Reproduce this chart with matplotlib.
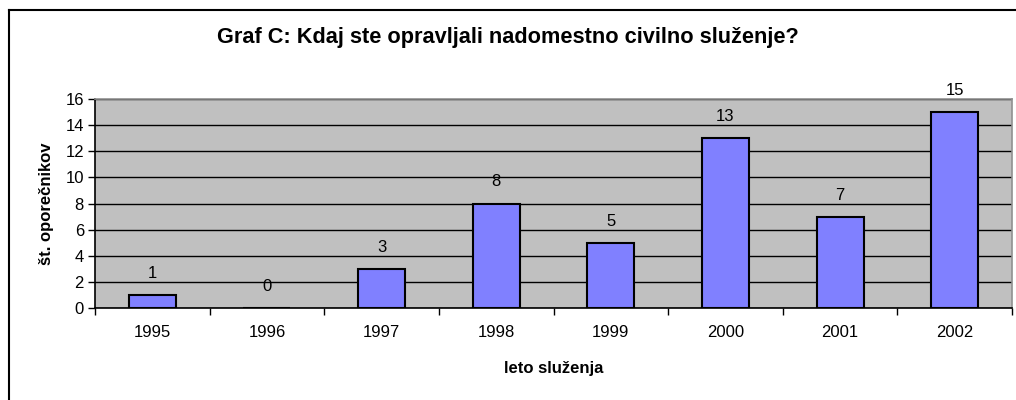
import matplotlib
matplotlib.use("Agg")
import matplotlib.pyplot as plt
from matplotlib.lines import Line2D

years = ["1995", "1996", "1997", "1998", "1999", "2000", "2001", "2002"]
counts = [1, 0, 3, 8, 5, 13, 7, 15]

plt.rcParams["font.family"] = ["Liberation Sans", "DejaVu Sans"]

fig = plt.figure(figsize=(10.16, 4.0), dpi=100)
ax = fig.add_axes([95 / 1016, 1 - 308 / 400, (1012 - 95) / 1016, (308 - 99) / 400])
ax.set_facecolor("#c0c0c0")

x = range(len(years))
ax.bar(x, counts, width=0.41, color="#8080ff", edgecolor="black", linewidth=1.5, zorder=3)
for xi, v in zip(x, counts):
    ax.annotate(str(v), (xi, v), xytext=(0, 15.5), textcoords="offset points",
                ha="center", va="center", fontsize=12)

ax.set_xlim(-0.5, len(years) - 0.5)
ax.set_ylim(0, 16)
ax.set_yticks(range(0, 17, 2))
ax.set_xticks(x)
ax.set_xticklabels(years, fontsize=12)
ax.set_xticks([i - 0.5 for i in range(len(years) + 1)], minor=True)
ax.tick_params(axis="x", which="major", length=0, pad=12)
ax.tick_params(axis="x", which="minor", length=5, direction="out", width=1)
ax.tick_params(axis="y", labelsize=12, length=5, width=1, pad=3)
ax.grid(axis="y", color="black", linewidth=1, zorder=1)
ax.set_axisbelow(True)

for s in ["left", "bottom"]:
    ax.spines[s].set_color("black")
    ax.spines[s].set_linewidth(1.2)
for s in ["top", "right"]:
    ax.spines[s].set_color("#909090")
    ax.spines[s].set_linewidth(1.2)

ax.set_ylabel("št. oporečnikov", fontsize=12, fontweight="bold")
ax.yaxis.set_label_coords(-(95 - 46) / 917, 0.5)
ax.set_xlabel("leto služenja", fontsize=12, fontweight="bold")
ax.xaxis.set_label_coords(0.5, -(368 - 308) / 209)
ax.xaxis.label.set_va("center")
ax.yaxis.label.set_va("center")
fig.text(508 / 1016, 1 - 37 / 400, "Graf C: Kdaj ste opravljali nadomestno civilno služenje?",
         ha="center", va="center", fontsize=15.7, fontweight="bold")

# outer chart border (only left and top edges visible)
fig.add_artist(Line2D([8.5 / 1016, 8.5 / 1016], [0, 1 - 9.5 / 400], color="black", lw=1.5,
                      transform=fig.transFigure))
fig.add_artist(Line2D([8.5 / 1016, 1], [1 - 9.5 / 400, 1 - 9.5 / 400], color="black", lw=1.5,
                      transform=fig.transFigure))

fig.savefig("out.png", dpi=100)
